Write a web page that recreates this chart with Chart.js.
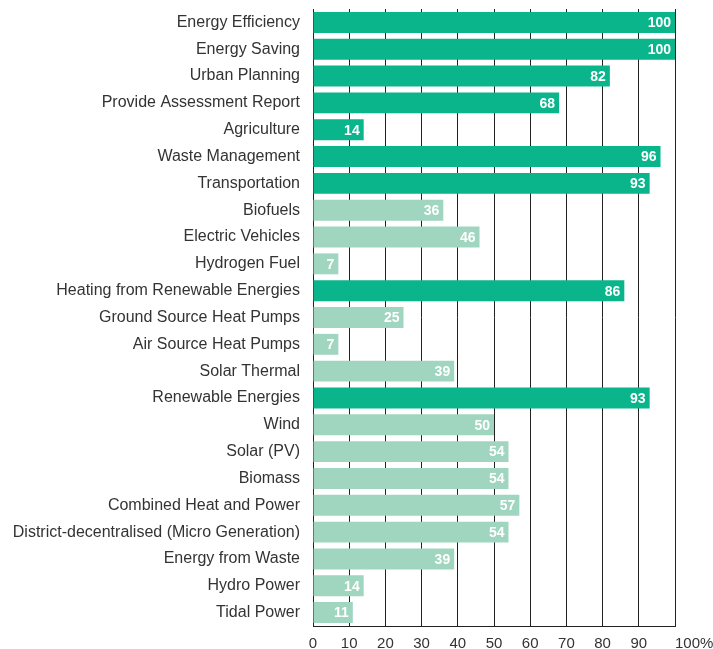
<!DOCTYPE html>
<html>
<head>
<meta charset="utf-8">
<script src="https://cdn.jsdelivr.net/npm/chart.js@4/dist/chart.umd.min.js"></script>
<style>
  html, body { margin: 0; padding: 0; background: #fff; }
  #wrap { width: 713px; height: 649px; position: relative; }
</style>
</head>
<body>
<div id="wrap"><canvas id="barChart"></canvas></div>
<script>
const categories = [
    'Energy Efficiency', 'Energy Saving', 'Urban Planning', 'Provide Assessment Report',
    'Agriculture', 'Waste Management', 'Transportation', 'Biofuels', 'Electric Vehicles',
    'Hydrogen Fuel', 'Heating from Renewable Energies', 'Ground Source Heat Pumps',
    'Air Source Heat Pumps', 'Solar Thermal', 'Renewable Energies', 'Wind', 'Solar (PV)',
    'Biomass', 'Combined Heat and Power', 'District-decentralised (Micro Generation)',
    'Energy from Waste', 'Hydro Power', 'Tidal Power'
];
const values = [100, 100, 82, 68, 14, 96, 93, 36, 46, 7, 86, 25, 7, 39, 93, 50, 54, 54, 57, 54, 39, 14, 11];
// main headings are dark, sub items are light
const isMain = [1, 1, 1, 1, 1, 1, 1, 0, 0, 0, 1, 0, 0, 0, 1, 0, 0, 0, 0, 0, 0, 0, 0];
const xTicks = [0, 10, 20, 30, 40, 50, 60, 70, 80, 90, 100];

const darkGreen = 'rgb(11, 181, 139)';
const lightGreen = 'rgb(160, 214, 192)';
const fontFamily = '"Liberation Sans", Arial, Helvetica, sans-serif';
const tickSize = 15;

// white value labels at the end of each bar + the "100%" label that sits right of its tick
const valueLabels = {
    id: 'valueLabels',
    afterDatasetsDraw(chart) {
        const ctx = chart.ctx;
        const meta = chart.getDatasetMeta(0);
        ctx.save();
        ctx.font = 'bold 14px ' + fontFamily;
        ctx.fillStyle = '#fff';
        ctx.textAlign = 'right';
        ctx.textBaseline = 'middle';
        meta.data.forEach(function(bar, i) {
            ctx.fillText(String(values[i]), bar.x - 4, bar.y + 1);
        });

        const xs = chart.scales.x;
        ctx.font = tickSize + 'px ' + fontFamily;
        ctx.fillStyle = '#333';
        ctx.textAlign = 'left';
        ctx.textBaseline = 'middle';
        ctx.fillText('100%', xs.getPixelForValue(100), xs.top + 9 + tickSize * 0.6);
        ctx.restore();
    }
};

const ctx = document.getElementById('barChart');
const barChart = new Chart(ctx, {
    type: 'bar',
    data: {
        labels: categories,
        datasets: [{
            data: values,
            backgroundColor: isMain.map(m => m ? darkGreen : lightGreen),
            borderWidth: 0,
            barPercentage: 0.78,
            categoryPercentage: 1
        }]
    },
    plugins: [valueLabels],
    options: {
        indexAxis: 'y',
        responsive: true,
        maintainAspectRatio: false,
        animation: false,
        layout: {
            padding: { top: 9, right: 38, bottom: 0, left: 0 }
        },
        plugins: {
            legend: { display: false },
            tooltip: { enabled: false }
        },
        scales: {
            x: {
                min: 0,
                max: 100,
                afterBuildTicks: function(scale) {
                    scale.ticks = xTicks.map(v => ({ value: v }));
                },
                afterFit: function(scale) {
                    scale.height = 23;
                    scale.paddingRight = 0;
                },
                grid: {
                    color: '#222',
                    lineWidth: 1,
                    drawTicks: false
                },
                border: { display: true, color: '#222', width: 1 },
                ticks: {
                    padding: 9,
                    maxRotation: 0,
                    minRotation: 0,
                    autoSkip: false,
                    color: '#333',
                    font: { family: fontFamily, size: tickSize },
                    callback: function(v) { return v === 100 ? '' : v; }
                }
            },
            y: {
                grid: { display: false, drawTicks: false },
                border: { display: true, color: '#222', width: 1 },
                afterFit: function(scale) {
                    scale.width = 313;
                    scale.paddingTop = 0;
                    scale.paddingBottom = 0;
                },
                ticks: {
                    padding: 13,
                    color: '#333',
                    font: { family: fontFamily, size: 16 },
                    autoSkip: false
                }
            }
        }
    }
});
</script>
</body>
</html>
